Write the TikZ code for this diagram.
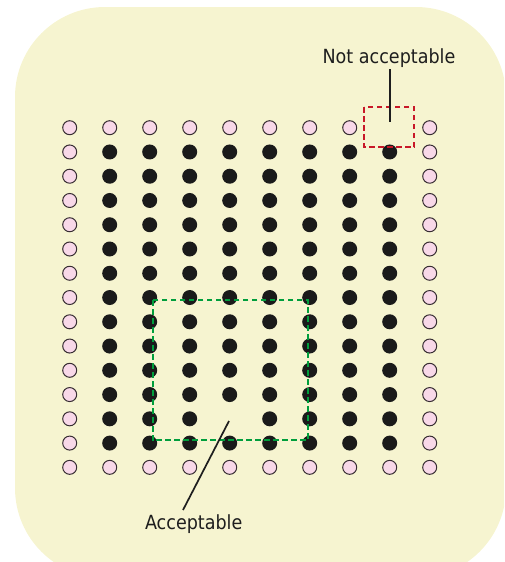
\documentclass[tikz,border=0pt]{standalone}
\usepackage{fontspec}
\newfontfamily\labfont{DejaVu Sans}[FakeStretch=0.9]
\definecolor{bgyellow}{RGB}{246,244,208}
\definecolor{dotblack}{RGB}{26,26,26}
\definecolor{dotpink}{RGB}{248,216,232}
\definecolor{dotedge}{RGB}{55,45,50}
\definecolor{boxred}{RGB}{200,24,40}
\definecolor{boxgreen}{RGB}{0,158,60}
\definecolor{textcol}{RGB}{30,30,30}
\begin{document}
\begin{tikzpicture}[x=1pt,y=-1pt,
  blackdot/.style={circle,fill=dotblack,draw=none,minimum size=15pt,inner sep=0pt},
  pinkdot/.style={circle,fill=dotpink,draw=dotedge,line width=1pt,minimum size=14pt,inner sep=0pt},
  lab/.style={font=\labfont\fontsize{19.5}{22}\selectfont,text=textcol,inner sep=0pt},
  leader/.style={draw=textcol,line width=1.7pt},
  redbox/.style={draw=boxred,line width=1.9pt,dash pattern=on 5.5pt off 3.5pt},
  greenbox/.style={draw=boxgreen,line width=1.9pt,dash pattern=on 5.5pt off 3.5pt}]
\useasboundingbox (0,0) rectangle (504,562);
\begin{scope}
  \clip (0,0) rectangle (504,562);
  \fill[bgyellow,rounded corners=90pt] (15,7) rectangle (506,578);
\end{scope}
% dots
\foreach \i in {0,...,9}{
  \foreach \j in {0,...,14}{
    \pgfmathtruncatemacro\bordflag{(\i==0)||(\i==9)||(\j==0)||(\j==14)}
    \pgfmathtruncatemacro\gapflag{((\i==8)&&(\j==0))||((\i==4)&&(\j==12))}
    \ifnum\gapflag=0
      \ifnum\bordflag=1
        \node[pinkdot] (d-\i-\j) at ({69.7+40*\i},{127.7+24.26*\j}) {};
      \else
        \node[blackdot] (d-\i-\j) at ({69.7+40*\i},{127.7+24.26*\j}) {};
      \fi
    \fi
  }
}
% boxes
\draw[redbox] (364,107) rectangle (414,147);
\draw[greenbox] (152.7,300) rectangle (307.7,440.3);
% labels
\node[lab,anchor=base] (na) at (389,63.3) {Not acceptable};
\coordinate (na-top) at (390,69);
\coordinate (na-end) at (390,122);
\draw[leader] (na-top) -- (na-end);
\node[lab,anchor=base] (ac) at (193.7,529) {Acceptable};
\coordinate (ac-top) at (183,510);
\coordinate (ac-end) at (229,421);
\draw[leader] (ac-top) -- (ac-end);
\end{tikzpicture}
\end{document}
